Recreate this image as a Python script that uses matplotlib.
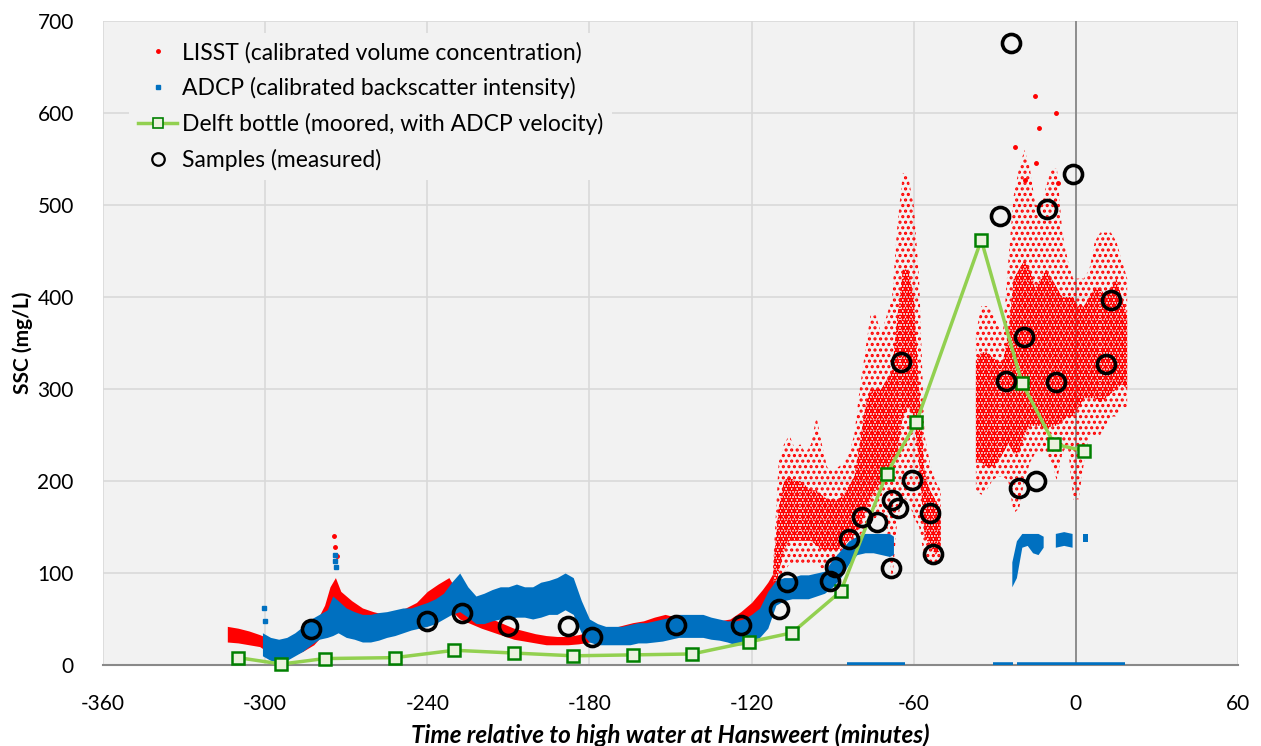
import numpy as np
import matplotlib
matplotlib.use('Agg')
import matplotlib.pyplot as plt
from matplotlib.lines import Line2D

# ---------------- data ----------------
# LISST, smooth part: dense band (lower / upper edge)
lisst_t_a = [-314, -310, -306, -302, -298, -294, -290, -286, -282, -278,
             -276, -274, -272, -268, -264, -260, -256, -252, -248, -244,
             -240, -236, -232, -230, -228, -224, -220, -216, -212, -208,
             -204, -200, -196, -192, -188, -184, -180, -176, -172, -168,
             -164, -160, -156, -152, -148, -144, -140, -136, -132, -128,
             -124, -120, -118, -116, -114, -112]
lisst_lo_a = [25, 24, 22, 20, 12, 8, 10, 15, 22, 35,
              45, 50, 45, 42, 40, 38, 38, 40, 42, 45,
              52, 58, 60, 56, 50, 45, 40, 36, 32, 28,
              26, 24, 22, 22, 22, 23, 25, 28, 30, 32,
              34, 35, 36, 38, 38, 38, 37, 36, 35, 35,
              38, 45, 50, 55, 60, 70]
lisst_hi_a = [42, 40, 37, 33, 28, 25, 27, 32, 42, 65,
              85, 95, 80, 70, 62, 58, 55, 58, 62, 68,
              80, 88, 95, 85, 72, 62, 55, 50, 45, 40,
              37, 34, 32, 31, 31, 33, 36, 38, 40, 43,
              46, 48, 52, 55, 52, 50, 50, 48, 48, 50,
              58, 68, 75, 82, 90, 100]

# LISST, noisy part before the gap
lisst_t_b = [-112, -110, -108, -106, -104, -102, -100, -98, -96, -94,
             -92, -90, -88, -86, -84, -82, -80, -78, -76, -74,
             -72, -70, -68, -66, -64, -62, -60, -58, -56, -54,
             -52, -50]
lisst_core_lo_b = [75, 100, 125, 135, 135, 135, 135, 135, 130, 125,
                   125, 125, 125, 130, 135, 140, 150, 165, 180, 190,
                   200, 210, 215, 230, 270, 280, 270, 220, 140, 130,
                   120, 125]
lisst_core_hi_b = [105, 170, 200, 205, 200, 200, 195, 190, 190, 185,
                   180, 180, 180, 185, 195, 205, 240, 280, 300, 300,
                   300, 310, 320, 380, 430, 430, 400, 300, 210, 190,
                   180, 170]
lisst_sp_lo_b = [60, 85, 100, 110, 110, 110, 110, 110, 110, 105,
                 105, 105, 110, 115, 120, 125, 140, 150, 155, 160,
                 170, 150, 90, 160, 180, 180, 160, 150, 115, 110,
                 110, 110]
lisst_sp_hi_b = [110, 220, 240, 250, 235, 240, 230, 240, 270, 240,
                 215, 210, 215, 220, 230, 250, 300, 340, 380, 380,
                 360, 380, 400, 480, 535, 530, 500, 420, 250, 220,
                 200, 190]

# LISST, noisy part after the gap
lisst_t_c = [-37, -35, -33, -31, -29, -27, -25, -23, -21, -19,
             -17, -15, -13, -11, -9, -7, -5, -3, -1, 1,
             3, 5, 7, 9, 11, 13, 15, 17, 19]
lisst_core_lo_c = [220, 220, 215, 215, 220, 230, 240, 230, 230, 250,
                   260, 260, 260, 255, 260, 260, 265, 270, 270, 280,
                   290, 290, 290, 285, 290, 295, 300, 305, 300]
lisst_core_hi_c = [330, 340, 340, 335, 330, 330, 360, 420, 430, 440,
                   430, 410, 420, 430, 420, 410, 400, 400, 400, 390,
                   390, 400, 410, 410, 400, 410, 420, 400, 380]
lisst_sp_lo_c = [190, 185, 190, 200, 205, 205, 200, 165, 170, 200,
                 220, 230, 230, 230, 220, 200, 230, 240, 180, 180,
                 220, 250, 250, 250, 260, 270, 270, 280, 280]
lisst_sp_hi_c = [360, 390, 390, 385, 370, 360, 440, 510, 540, 560,
                 540, 500, 500, 520, 540, 540, 470, 440, 420, 420,
                 420, 430, 460, 470, 470, 470, 460, 440, 420]

# LISST isolated points
lisst_out_t = [-274.5, -274, -273.5, -22.7, -14.7, -15, -13.5, -7.3, -18.7, -6.7]
lisst_out_y = [140, 128, 118, 563, 546, 618, 584, 600, 527, 524]

# ADCP dense band
adcp_t_a = [-301, -298, -295, -292, -289, -286, -283, -280, -277, -275,
            -273, -270, -267, -264, -261, -258, -255, -252, -249, -246,
            -243, -240, -237, -234, -231, -228, -225, -222, -219, -216,
            -213, -210, -207, -204, -201, -198, -195, -192, -189, -186,
            -183, -180, -177, -174, -171, -168, -165, -162, -159, -156,
            -153, -150, -147, -144, -141, -138, -135, -132, -129, -126,
            -123, -120, -117, -114, -111, -108, -105, -102, -99, -96,
            -93, -90, -87, -84, -81, -78, -75, -72, -69, -67.5]
adcp_lo_a = [10, 5, 3, 5, 10, 15, 22, 28, 30, 32,
             35, 30, 28, 25, 25, 27, 30, 32, 35, 38,
             40, 42, 45, 50, 55, 58, 52, 45, 45, 48,
             50, 50, 52, 52, 50, 52, 55, 55, 60, 55,
             35, 25, 22, 22, 22, 22, 22, 24, 24, 25,
             26, 28, 30, 30, 30, 30, 28, 27, 25, 22,
             22, 25, 30, 40, 65, 70, 72, 72, 72, 75,
             78, 85, 95, 110, 120, 122, 122, 120, 118, 120]
adcp_hi_a = [35, 30, 28, 30, 35, 42, 50, 55, 60, 75,
             70, 62, 58, 55, 55, 57, 58, 60, 62, 62,
             65, 68, 72, 78, 90, 100, 85, 75, 78, 82,
             85, 85, 88, 85, 85, 90, 92, 95, 100, 95,
             70, 50, 45, 42, 42, 42, 44, 46, 46, 48,
             50, 52, 55, 55, 55, 55, 52, 50, 48, 48,
             50, 55, 62, 80, 92, 95, 95, 98, 98, 100,
             102, 115, 125, 135, 140, 143, 143, 143, 143, 140]

# ADCP later groups
adcp_t_b = [-23.7, -22, -20, -18, -16, -14, -12.1]
adcp_lo_b = [85, 95, 128, 130, 122, 120, 128]
adcp_hi_b = [112, 135, 143, 143, 143, 143, 140]
adcp_t_c = [-7.6, -4.5, -1.4]
adcp_lo_c = [128, 130, 128]
adcp_hi_c = [143, 145, 143]
adcp_t_d = [2.7, 4.5]
adcp_lo_d = [134, 134]
adcp_hi_d = [142, 142]

# ADCP readings at zero (segments start / end)
adcp_zero_start = [-84.6, -30.6, -21.7]
adcp_zero_end = [-63.2, -23.2, 18.2]

# ADCP isolated points
adcp_out_t = [-300.4, -300.2, -274.1, -274.1, -273.8]
adcp_out_y = [62, 48, 120, 113, 106]

# Delft bottle
delft_t = [-310, -294, -278, -252, -230, -208, -186, -164, -142, -121,
           -105, -87, -70, -59, -35, -20, -8, 3]
delft_y = [8, 1, 7, 8, 16, 13, 10, 11, 12, 25,
           35, 80, 208, 264, 462, 307, 240, 233]

# Samples
sample_t = [-283, -240, -227, -210, -188, -179, -148, -124, -110, -107,
            -91, -89, -84, -79, -73.5, -68.5, -68, -66, -64.7, -60.5,
            -54, -53, -28, -25.7, -24, -21, -19.3, -14.7, -10.5, -7.4,
            -1, 11, 13]
sample_y = [39, 48, 57, 42, 42, 30, 44, 43, 61, 90,
            91, 106, 137, 161, 155, 105, 179, 171, 329, 201,
            165, 121, 488, 309, 676, 192, 357, 200, 496, 308,
            534, 327, 397]

x_ticks = [-360, -300, -240, -180, -120, -60, 0, 60]
y_ticks = [0, 100, 200, 300, 400, 500, 600, 700]

labels = ['LISST (calibrated volume concentration)',
          'ADCP (calibrated backscatter intensity)',
          'Delft bottle (moored, with ADCP velocity)',
          'Samples (measured)']

# ---------------- styling ----------------
RED = '#FF0000'
BLUE = '#0070C0'
GREEN_LINE = '#92D050'
GREEN_EDGE = '#008000'
FONT = 'Lato'

plt.rcParams['font.family'] = [FONT, 'DejaVu Sans']
plt.rcParams['axes.unicode_minus'] = False

fig = plt.figure(figsize=(12.61, 7.46), dpi=100)
ax = fig.add_axes([103 / 1261, 81 / 746, 1135 / 1261, 644 / 746])
ax.set_facecolor('#F2F2F2')

ax.set_xlim(-360, 60)
ax.set_ylim(0, 700)
ax.set_xticks(x_ticks)
ax.set_yticks(y_ticks)
ax.grid(True, color='#D9D9D9', linewidth=1.2, zorder=0)
ax.set_axisbelow(True)
for s in ['top', 'right', 'left']:
    ax.spines[s].set_visible(False)
ax.spines['bottom'].set_color('#898989')
ax.spines['bottom'].set_linewidth(1.5)
ax.tick_params(axis='both', length=0, labelsize=15)
ax.tick_params(axis='y', pad=21)
ax.tick_params(axis='x', pad=21)
ax.axvline(0, color='#808080', linewidth=1.2, zorder=1)

# LISST
ax.fill_between(lisst_t_a, lisst_lo_a, lisst_hi_a, color=RED, linewidth=0, zorder=2)
plt.rcParams['hatch.linewidth'] = 1.5
ax.fill_between(lisst_t_b, lisst_sp_lo_b, lisst_sp_hi_b, facecolor='none',
                edgecolor=RED, hatch='...', linewidth=0, zorder=2)
ax.fill_between(lisst_t_c, lisst_sp_lo_c, lisst_sp_hi_c, facecolor='none',
                edgecolor=RED, hatch='...', linewidth=0, zorder=2)
plt.rcParams['hatch.linewidth'] = 2.4
ax.fill_between(lisst_t_b, lisst_core_lo_b, lisst_core_hi_b, facecolor='none',
                edgecolor=RED, hatch='......', linewidth=0, zorder=2)
ax.fill_between(lisst_t_c, lisst_core_lo_c, lisst_core_hi_c, facecolor='none',
                edgecolor=RED, hatch='......', linewidth=0, zorder=2)
ax.plot(lisst_out_t, lisst_out_y, linestyle='none', marker='o', markersize=2.5,
        color=RED, zorder=2)

# ADCP
ax.fill_between(adcp_t_a, adcp_lo_a, adcp_hi_a, color=BLUE, linewidth=0, zorder=3)
for tt, lo, hi in [(adcp_t_b, adcp_lo_b, adcp_hi_b),
                   (adcp_t_c, adcp_lo_c, adcp_hi_c),
                   (adcp_t_d, adcp_lo_d, adcp_hi_d)]:
    ax.fill_between(tt, lo, hi, color=BLUE, linewidth=0, zorder=3)
ax.hlines([0] * len(adcp_zero_start), adcp_zero_start, adcp_zero_end,
          color=BLUE, linewidth=4, zorder=4)
ax.plot(adcp_out_t, adcp_out_y, linestyle='none', marker='s', markersize=3,
        color=BLUE, zorder=3)

# Delft bottle
ax.plot(delft_t, delft_y, color=GREEN_LINE, linewidth=2.5, marker='s',
        markersize=9, markerfacecolor='#EBF1DE', markeredgecolor=GREEN_EDGE,
        markeredgewidth=1.8, zorder=5, clip_on=False)

# Samples
ax.plot(sample_t, sample_y, linestyle='none', marker='o', markersize=13,
        markerfacecolor='none', markeredgecolor='black', markeredgewidth=2.6,
        zorder=6)

# Legend (proxies with legend-sized markers)
handles = [
    Line2D([], [], linestyle='none', marker='o', markersize=2.5, color=RED),
    Line2D([], [], linestyle='none', marker='s', markersize=3, color=BLUE),
    Line2D([], [], color=GREEN_LINE, linewidth=2.5, marker='s', markersize=7,
           markerfacecolor='#EBF1DE', markeredgecolor=GREEN_EDGE, markeredgewidth=1.2),
    Line2D([], [], linestyle='none', marker='o', markersize=9,
           markerfacecolor='none', markeredgecolor='black', markeredgewidth=1.6),
]
leg = ax.legend(handles, labels, loc='upper left', bbox_to_anchor=(0.023, 0.982),
                fontsize=16.5, frameon=True, facecolor='#F2F2F2', edgecolor='none',
                framealpha=1, handlelength=1.7, handletextpad=0.2,
                labelspacing=0.6, borderpad=0.4, borderaxespad=0)
leg.set_zorder(7)

ax.set_xlabel('Time relative to high water at Hansweert (minutes)', fontsize=17.5,
              fontweight='bold', fontstyle='italic', labelpad=7)
ax.set_ylabel('SSC (mg/L)', fontsize=15, fontweight='bold', labelpad=3)

fig.savefig('out.png', dpi=100, facecolor='white')
